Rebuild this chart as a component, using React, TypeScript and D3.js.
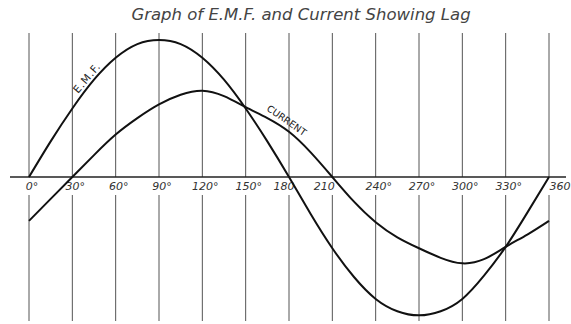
import React from "react";
import * as d3 from "d3";

const degrees = [0, 15, 30, 45, 60, 75, 90, 105, 120, 135, 150, 165, 180, 195, 210, 225, 240, 255, 270, 285, 300, 315, 330, 345, 360];
const emf = [0, 26, 50, 71, 87, 97, 100, 97, 87, 71, 50, 26, 0, -27, -52, -73, -89, -98, -101, -98, -89, -72, -51, -26, 0];
const current = [-32, -16, 0, 16, 31, 43, 53, 60, 63, 59, 51, 43, 33, 18, 0, -18, -33, -44, -52, -59, -63, -60, -51, -42, -32];
const gridDegrees = [0, 30, 60, 90, 120, 150, 180, 210, 240, 270, 300, 330, 360];
const tickLabels = ["0°", "30°", "60°", "90°", "120°", "150°", "180", "210", "240°", "270°", "300°", "330°", "360"];
const title = "Graph of E.M.F. and Current Showing Lag";

const W = 571;
const H = 324;
const labelShift: Record<string, number> = { "180": -8, "210": -11, "360": 8 };

export default function App() {
  const x = d3.scaleLinear().domain([0, 360]).range([29, 549]);
  const y = d3.scaleLinear().domain([-100, 100]).range([177 + 137, 177 - 137]);
  const line = d3
    .line<number>()
    .x((_, i) => x(degrees[i]))
    .curve(d3.curveNatural);
  const emfPath = line.y((v) => y(v))(emf) as string;
  const curPath = line.y((v) => y(v))(current) as string;
  const y0 = y(0);
  const font = "'DejaVu Sans', sans-serif";

  return (
    <svg
      width={W}
      height={H}
      style={{ position: "absolute", left: 0, top: 0, background: "#fff" }}
    >
      <rect width={W} height={H} fill="#fff" />
      <text
        x={301}
        y={20}
        textAnchor="middle"
        fontFamily={font}
        fontStyle="italic"
        fontSize={16.5}
        fill="#444"
      >
        {title}
      </text>
      {gridDegrees.map((d) => (
        <g key={d}>
          <line x1={x(d)} x2={x(d)} y1={33} y2={y0} stroke="#555" strokeWidth={1} />
          <line x1={x(d)} x2={x(d)} y1={195} y2={321} stroke="#555" strokeWidth={1} />
        </g>
      ))}
      <line x1={10} x2={566} y1={y0} y2={y0} stroke="#222" strokeWidth={1.6} />
      {gridDegrees.map((d, i) => (
        <text
          key={"t" + d}
          x={x(d) + 3 + (labelShift[tickLabels[i]] ?? 0)}
          y={190}
          textAnchor="middle"
          fontFamily={font}
          fontStyle="italic"
          fontSize={11}
          fill="#333"
        >
          {tickLabels[i]}
        </text>
      ))}
      <path d={emfPath} fill="none" stroke="#111" strokeWidth={2} />
      <path d={curPath} fill="none" stroke="#111" strokeWidth={2} />
      <text
        transform="translate(78,94) rotate(-50)"
        fontFamily={font}
        fontSize={10.5}
        fill="#222"
        letterSpacing={1}
      >
        E.M.F.
      </text>
      <text
        transform="translate(266,110) rotate(35)"
        fontFamily={font}
        fontSize={9.5}
        fill="#222"
      >
        CURRENT
      </text>
    </svg>
  );
}
